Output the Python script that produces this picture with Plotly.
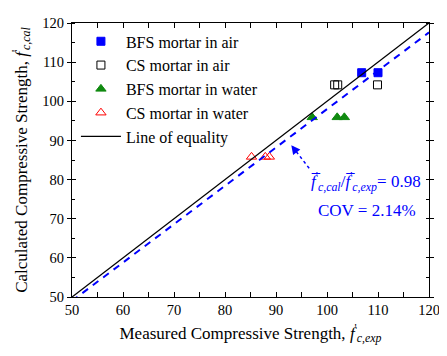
import plotly.graph_objects as go

# data
bfs_air_x = [106.8, 110.0]
bfs_air_y = [107.3, 107.3]
cs_air_x = [101.5, 102.1, 109.9]
cs_air_y = [104.2, 104.2, 104.2]
bfs_water_x = [97.1, 102.0, 103.4]
bfs_water_y = [95.9, 95.9, 95.9]
cs_water_x = [85.2, 87.9, 88.7]
cs_water_y = [85.8, 85.8, 85.8]
equality_x = [50, 120]
equality_y = [50, 120]
ratio = 0.98
cov = 2.14
ratio_x = [50, 120]
ratio_y = [ratio * v for v in ratio_x]

FONT = "Liberation Serif, Times New Roman, serif"
BLUE = "#0000ff"

fig = go.Figure()
fig.add_trace(go.Scatter(x=bfs_air_x, y=bfs_air_y, mode="markers", name="BFS mortar in air",
                         marker=dict(symbol="square", size=8, color=BLUE, line=dict(color=BLUE, width=1))))
fig.add_trace(go.Scatter(x=cs_air_x, y=cs_air_y, mode="markers", name="CS mortar in air",
                         marker=dict(symbol="square-open", size=8, color="black", line=dict(width=1))))
fig.add_trace(go.Scatter(x=bfs_water_x, y=bfs_water_y, mode="markers", name="BFS mortar in water",
                         marker=dict(symbol="triangle-up", size=9, color="#108a10", line=dict(color="#108a10", width=1))))
fig.add_trace(go.Scatter(x=cs_water_x, y=cs_water_y, mode="markers", name="CS mortar in water",
                         marker=dict(symbol="triangle-up-open", size=9, color="#ff0000", line=dict(width=1))))
fig.add_trace(go.Scatter(x=equality_x, y=equality_y, mode="lines", name="Line of equality",
                         line=dict(color="black", width=1.3)))
fig.add_trace(go.Scatter(x=ratio_x, y=ratio_y, mode="lines", showlegend=False,
                         line=dict(color=BLUE, width=2, dash="7px,6px")))
# helper trace for inner part of crossing y ticks
fig.add_trace(go.Scatter(x=[50], y=[50], yaxis="y2", mode="markers", showlegend=False,
                         marker=dict(opacity=0), hoverinfo="skip"))

# dotted arrow
tail = (96.5, 82.9)
head = (93.0, 88.8)
fig.add_shape(type="line", x0=tail[0], y0=tail[1], x1=head[0] + 0.5, y1=head[1] - 0.85,
              line=dict(color=BLUE, width=1.5, dash="dot"))
fig.add_annotation(x=head[0], y=head[1], ax=head[0] + 0.7, ay=head[1] - 1.2, axref="x", ayref="y",
                   text="", showarrow=True, arrowhead=2, arrowsize=1.2, arrowwidth=1.5, arrowcolor=BLUE)

fig.add_annotation(x=107.6, y=79.5, xref="x", yref="y", showarrow=False,
                   text="<i>f\u0305</i><sup>'</sup><sub><i>c,cal</i></sub>/<i>f\u0305</i><sup>'</sup><sub><i>c,exp</i></sub>= " + f"{ratio:.2f}",
                   font=dict(family=FONT, size=17, color=BLUE))
fig.add_annotation(x=107.8, y=72.0, xref="x", yref="y", showarrow=False,
                   text=f"COV = {cov:.2f}%",
                   font=dict(family=FONT, size=17, color=BLUE))

axis_common = dict(range=[50, 120], dtick=10, tick0=50, showline=True, linecolor="black", linewidth=1,
                   mirror="allticks", showgrid=False, zeroline=False, tickcolor="black", automargin=False,
                   ticklabeloverflow="allow",
                   tickfont=dict(family=FONT, size=14.5, color="black"))

# page body adds an 8px margin around the figure
fig.update_layout(
    width=439, height=340,
    margin=dict(l=64, r=18, t=15, b=51),
    paper_bgcolor="white", plot_bgcolor="white",
    font=dict(family=FONT, size=17, color="black"),
    xaxis=dict(**axis_common, ticks="inside", ticklen=5,
               minor=dict(dtick=5, ticks="inside", ticklen=3, tickcolor="black"),
               title=dict(text="Measured Compressive Strength, <i>f</i><sup>'</sup><sub><i>c,exp</i></sub>",
                          font=dict(family=FONT, size=17), standoff=9)),
    yaxis=dict(**axis_common, ticks="outside", ticklen=4,
               minor=dict(dtick=5, ticks="inside", ticklen=3, tickcolor="black"),
               title=dict(text="Calculated Compressive Strength, <i>f</i><sup>'</sup><sub><i>c,cal</i></sub>",
                          font=dict(family=FONT, size=17), standoff=10)),
    yaxis2=dict(range=[50, 120], dtick=10, tick0=50, overlaying="y", side="left", showline=False,
                showgrid=False, zeroline=False, ticks="inside", ticklen=4, tickcolor="black",
                showticklabels=False, automargin=False),
    legend=dict(x=0.011, y=0.995, xanchor="left", yanchor="top", bgcolor="rgba(0,0,0,0)",
                font=dict(family=FONT, size=16, color="black"), tracegroupgap=0, itemwidth=40),
    showlegend=True,
)

fig.write_html("out.html")
